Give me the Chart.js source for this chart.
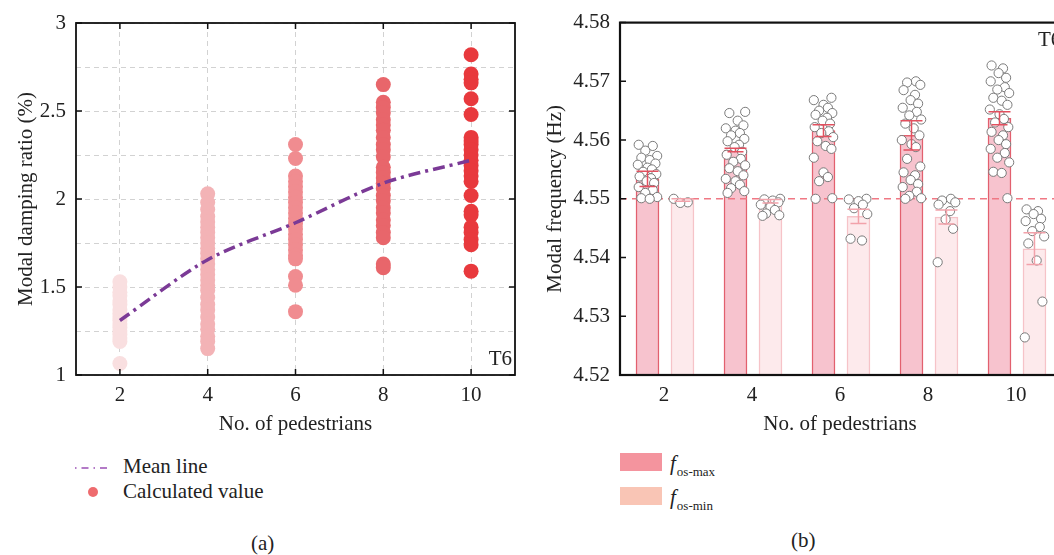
<!DOCTYPE html>
<html>
<head>
<meta charset="utf-8">
<script src="https://cdn.jsdelivr.net/npm/chart.js@4.4.1/dist/chart.umd.min.js"></script>
<style>
  html, body { margin: 0; padding: 0; background: #fff; overflow: hidden; }
  body { width: 1054px; height: 555px; position: relative; font-family: 'Liberation Serif', serif; color: #222; }
  canvas { position: absolute; top: 0; }
  #damping { left: 0; }
  #freq { left: 530px; }
  .txt { position: absolute; font-size: 21px; line-height: 1; white-space: nowrap; }
  .box { position: absolute; width: 42px; height: 18px; }
  .f { font-style: italic; }
  .sub { font-size: 13px; position: relative; top: 6px; left: 1px; }
</style>
</head>
<body>
<canvas id="damping" width="540" height="440"></canvas>
<canvas id="freq" width="540" height="440"></canvas>

<!-- legend (a) -->
<svg style="position:absolute;left:74px;top:462px" width="40" height="12">
  <line x1="1" y1="6" x2="37" y2="6" stroke="#9b4fb5" stroke-width="1.5" stroke-dasharray="1.5,5,7,5"/>
</svg>
<div class="txt" style="left:123px;top:456px">Mean line</div>
<svg style="position:absolute;left:87px;top:486px" width="12" height="12">
  <circle cx="6" cy="6" r="5" fill="#ee6b6e"/>
</svg>
<div class="txt" style="left:123px;top:481px">Calculated value</div>
<div class="txt" style="left:251px;top:533px">(a)</div>

<!-- legend (b) -->
<div class="box" style="left:620px;top:453px;background:#f4949e"></div>
<div class="txt" style="left:670px;top:453px"><span class="f">f</span><span class="sub">os-max</span></div>
<div class="box" style="left:620px;top:487px;background:#f9c5b5"></div>
<div class="txt" style="left:670px;top:487px"><span class="f">f</span><span class="sub">os-min</span></div>
<div class="txt" style="left:791px;top:530px">(b)</div>

<script>
// number of pedestrians on the footbridge
const pedestrians = [2, 4, 6, 8, 10];

// (a) modal damping ratio, %
const dampingTicks = [1, 1.5, 2, 2.5, 3];
const damping2 = [1.53, 1.50, 1.47, 1.45, 1.42, 1.40, 1.37, 1.35, 1.33, 1.31, 1.29, 1.27, 1.25, 1.23, 1.21, 1.19, 1.065];
const damping4 = [2.03, 1.98, 1.94, 1.90, 1.87, 1.84, 1.81, 1.78, 1.75, 1.72, 1.69, 1.66, 1.63, 1.60, 1.57, 1.54,
                  1.51, 1.48, 1.44, 1.40, 1.37, 1.33, 1.29, 1.26, 1.22, 1.19, 1.15];
const damping6 = [2.31, 2.23, 2.13, 2.10, 2.07, 2.04, 2.01, 1.98, 1.95, 1.92, 1.89, 1.86, 1.83, 1.80, 1.77, 1.74,
                  1.71, 1.68, 1.66, 1.56, 1.51, 1.36];
const damping8 = [2.65, 2.55, 2.52, 2.49, 2.45, 2.42, 2.39, 2.35, 2.31, 2.28, 2.24, 2.18, 2.15, 2.12, 2.09, 2.06,
                  2.02, 1.99, 1.95, 1.92, 1.88, 1.85, 1.81, 1.78, 1.63, 1.61];
const damping10 = [2.82, 2.71, 2.68, 2.66, 2.57, 2.48, 2.35, 2.33, 2.31, 2.28, 2.25, 2.22, 2.19, 2.16, 2.13, 2.10,
                   2.02, 1.93, 1.91, 1.84, 1.81, 1.77, 1.74, 1.59];
const dampingMean = [1.31, 1.655, 1.865, 2.09, 2.22];

// (b) modal frequency, Hz
const freqTicks = [4.52, 4.53, 4.54, 4.55, 4.56, 4.57, 4.58];
const freqRef = 4.55;
const fMaxMean = [4.5534, 4.5583, 4.5616, 4.5608, 4.5637];
const fMaxErr  = [0.0013, 0.0003, 0.0010, 0.0025, 0.0011];
const fMinMean = [4.5498, 4.5496, 4.5470, 4.5469, 4.5415];
const fMinErr  = [0.0002, 0.0003, 0.0012, 0.0012, 0.0027];

const fMax2 = [4.5592, 4.5590, 4.5582, 4.5573, 4.5570, 4.5566, 4.5560, 4.5558, 4.5553, 4.5550, 4.5546,
               4.5542, 4.5538, 4.5535, 4.5530, 4.5527, 4.5520, 4.5515, 4.5510, 4.5503, 4.5501, 4.5500];
const fMax4 = [4.5648, 4.5646, 4.5633, 4.5625, 4.5620, 4.5616, 4.5612, 4.5608, 4.5602, 4.5598, 4.5592,
               4.5588, 4.5580, 4.5575, 4.5568, 4.5563, 4.5557, 4.5552, 4.5547, 4.5540, 4.5534, 4.5530,
               4.5524, 4.5518, 4.5513, 4.5510];
const fMax6 = [4.5672, 4.5668, 4.5660, 4.5655, 4.5650, 4.5646, 4.5643, 4.5638, 4.5633, 4.5628, 4.5622,
               4.5615, 4.5612, 4.5605, 4.5598, 4.5590, 4.5585, 4.5570, 4.5545, 4.5537, 4.5530, 4.5501, 4.5500];
const fMax8 = [4.5700, 4.5698, 4.5694, 4.5685, 4.5677, 4.5668, 4.5662, 4.5655, 4.5648, 4.5642, 4.5635,
               4.5628, 4.5620, 4.5608, 4.5600, 4.5593, 4.5588, 4.5568, 4.5555, 4.5545, 4.5540, 4.5532,
               4.5525, 4.5520, 4.5512, 4.5505, 4.5501, 4.5500];
const fMax10 = [4.5727, 4.5722, 4.5714, 4.5706, 4.5700, 4.5690, 4.5686, 4.5680, 4.5672, 4.5667, 4.5660,
                4.5652, 4.5644, 4.5636, 4.5630, 4.5622, 4.5614, 4.5608, 4.5600, 4.5593, 4.5585, 4.5578,
                4.5570, 4.5562, 4.5546, 4.5544, 4.5501];
const fMin2 = [4.5500, 4.5494, 4.5493];
const fMin4 = [4.5500, 4.5499, 4.5497, 4.5494, 4.5490, 4.5486, 4.5481, 4.5475, 4.5472, 4.5471];
const fMin6 = [4.5500, 4.5499, 4.5496, 4.5490, 4.5484, 4.5474, 4.5432, 4.5429];
const fMin8 = [4.5500, 4.5497, 4.5494, 4.5490, 4.5479, 4.5465, 4.5449, 4.5392];
const fMin10 = [4.5482, 4.5479, 4.5474, 4.5466, 4.5462, 4.5452, 4.5445, 4.5436, 4.5424, 4.5395, 4.5325, 4.5264];

const FONT = 'Liberation Serif';
const INK = '#222';

// spread of the open circles around each bar centre (x units)
const jitter = [-0.2, 0.12, -0.05, 0.22, -0.14, 0.05, 0.18, -0.22, 0, 0.1, -0.1, 0.2, -0.18, 0.08, -0.02, 0.15];
const maxShift = -0.375, minShift = 0.42;

// box, inward tick marks and the corner tag
const frame = {
  id: 'frame',
  afterDraw(chart, args, o) {
    const { ctx, chartArea: a, scales: { x, y } } = chart;
    const len = 6;
    ctx.save();
    ctx.strokeStyle = '#111';
    ctx.lineWidth = o.width;
    ctx.strokeRect(a.left, a.top, a.width, a.height);
    ctx.lineWidth = 1.5;
    ctx.beginPath();
    (o.yTicks || []).forEach(v => {
      const py = y.getPixelForValue(v);
      ctx.moveTo(a.left, py); ctx.lineTo(a.left + len, py);
      if (o.mirror) { ctx.moveTo(a.right, py); ctx.lineTo(a.right - len, py); }
    });
    (o.xTicks || []).forEach(v => {
      const px = x.getPixelForValue(v);
      ctx.moveTo(px, a.bottom); ctx.lineTo(px, a.bottom - len);
      ctx.moveTo(px, a.top); ctx.lineTo(px, a.top + len);
    });
    ctx.stroke();
    ctx.fillStyle = INK;
    ctx.font = `21px "${FONT}"`;
    ctx.textAlign = o.tag.align;
    ctx.fillText('T6', a[o.tag.side] + o.tag.dx, a[o.tag.edge] + o.tag.dy);
    ctx.restore();
  }
};

// mean ± error whiskers on the frequency bars
const errorBars = {
  id: 'errorBars',
  afterDatasetsDraw(chart) {
    const { ctx, scales: { x, y } } = chart;
    const draw = (shift, means, errs, color) => {
      ctx.strokeStyle = color;
      ctx.lineWidth = 1.5;
      ctx.beginPath();
      pedestrians.forEach((p, i) => {
        const px = x.getPixelForValue(p + shift);
        const hi = y.getPixelForValue(means[i] + errs[i]);
        const lo = y.getPixelForValue(means[i] - errs[i]);
        ctx.moveTo(px, hi); ctx.lineTo(px, lo);
        ctx.moveTo(px - 11, hi); ctx.lineTo(px + 11, hi);
        ctx.moveTo(px - 8, lo); ctx.lineTo(px + 8, lo);
      });
      ctx.stroke();
    };
    ctx.save();
    draw(maxShift, fMaxMean, fMaxErr, '#e2505f');
    draw(minShift, fMinMean, fMinErr, '#f2a2aa');
    ctx.restore();
  }
};

const tickFont = { family: FONT, size: 21 };
const setTicks = list => scale => { scale.ticks = list.map(v => ({ value: v })); };

// ---------- (a) damping ratio ----------
const dampingCols = [damping2, damping4, damping6, damping8, damping10];
const dotColors = ['#f9dfe0', '#f3b3b6', '#f08c90', '#e8666b', '#e8393d'];

new Chart(document.getElementById('damping'), {
  type: 'scatter',
  data: {
    datasets: [
      {
        type: 'line',
        data: pedestrians.map((p, i) => ({ x: p, y: dampingMean[i] })),
        borderColor: '#7b3a96',
        borderWidth: 3.5,
        borderDash: [12, 5, 3, 5],
        tension: 0.3,
        pointRadius: 0,
        fill: false,
        order: 0
      },
      ...dampingCols.map((col, i) => ({
        data: col.map(v => ({ x: pedestrians[i], y: v })),
        backgroundColor: dotColors[i],
        borderWidth: 0,
        pointRadius: 7.5,
        order: 1
      }))
    ]
  },
  options: {
    responsive: false,
    animation: false,
    events: [],
    layout: { padding: { top: 23, right: 25, left: 0, bottom: 0 } },
    scales: {
      x: {
        type: 'linear', min: 1, max: 11,
        afterBuildTicks: setTicks(pedestrians),
        afterFit: s => { s.height = 65; },
        grid: { color: '#d2d2d2', drawTicks: false },
        border: { display: false, dash: [5, 4] },
        ticks: { font: tickFont, color: INK, padding: 8 },
        title: { display: true, text: 'No. of pedestrians', font: tickFont, color: INK, padding: { top: 0, bottom: 3 } }
      },
      y: {
        min: 1, max: 3,
        ticks: {
          stepSize: 0.25, font: tickFont, color: INK, padding: 10,
          callback: v => (Math.abs(v * 2 - Math.round(v * 2)) < 1e-6 ? String(v) : '')
        },
        afterFit: s => { s.width = 76; },
        grid: { color: '#d2d2d2', drawTicks: false },
        border: { display: false, dash: [5, 4] },
        title: { display: true, text: 'Modal damping ratio (%)', font: tickFont, color: INK, padding: { top: 14, bottom: 0 } }
      }
    },
    plugins: {
      legend: { display: false },
      tooltip: { enabled: false },
      frame: {
        width: 1.8, mirror: true, yTicks: dampingTicks, xTicks: pedestrians,
        tag: { align: 'right', side: 'right', edge: 'bottom', dx: -3, dy: -10 }
      }
    }
  },
  plugins: [frame]
});

// ---------- (b) modal frequency ----------
const maxCols = [fMax2, fMax4, fMax6, fMax8, fMax10];
const minCols = [fMin2, fMin4, fMin6, fMin8, fMin10];
const circles = (cols, shift) => cols.map((col, i) => ({
  type: 'scatter',
  data: col.map((v, k) => ({ x: pedestrians[i] + shift + jitter[(k + i * 3) % jitter.length], y: v })),
  backgroundColor: '#ffffff',
  borderColor: '#7a7a7a',
  borderWidth: 1,
  pointRadius: 4.6,
  order: 0
}));

new Chart(document.getElementById('freq'), {
  type: 'bar',
  data: {
    datasets: [
      {
        type: 'bar',
        data: pedestrians.map((p, i) => ({ x: p + maxShift, y: fMaxMean[i] })),
        backgroundColor: '#f7c3ce',
        borderColor: '#e2606e',
        borderWidth: { left: 1.5, right: 1.5, top: 1.5, bottom: 0 },
        barThickness: 23,
        grouped: false,
        order: 3
      },
      {
        type: 'bar',
        data: pedestrians.map((p, i) => ({ x: p + minShift, y: fMinMean[i] })),
        backgroundColor: '#fdeaec',
        borderColor: '#f6c3c8',
        borderWidth: { left: 1.5, right: 1.5, top: 1.5, bottom: 0 },
        barThickness: 23,
        grouped: false,
        order: 3
      },
      {
        type: 'line',
        data: [{ x: 1, y: freqRef }, { x: 11, y: freqRef }],
        borderColor: '#f07884',
        borderWidth: 1.5,
        borderDash: [7, 5],
        pointRadius: 0,
        order: 2
      },
      ...circles(maxCols, maxShift),
      ...circles(minCols, minShift)
    ]
  },
  options: {
    responsive: false,
    animation: false,
    events: [],
    layout: { padding: { top: 16, right: 10, left: 0, bottom: 0 } },
    scales: {
      x: {
        type: 'linear', min: 1, max: 11, offset: false,
        afterBuildTicks: setTicks(pedestrians),
        afterFit: s => { s.height = 65; },
        grid: { display: false, drawTicks: false },
        border: { display: false },
        ticks: { font: tickFont, color: INK, padding: 8 },
        title: { display: true, text: 'No. of pedestrians', font: tickFont, color: INK, padding: { top: 0, bottom: 3 } }
      },
      y: {
        min: 4.52, max: 4.58,
        afterBuildTicks: setTicks(freqTicks),
        afterFit: s => { s.width = 90; },
        grid: { display: false, drawTicks: false },
        border: { display: false },
        ticks: { font: tickFont, color: INK, padding: 10, callback: v => v.toFixed(2) },
        title: { display: true, text: 'Modal frequency (Hz)', font: tickFont, color: INK, padding: { top: 13, bottom: 0 } }
      }
    },
    plugins: {
      legend: { display: false },
      tooltip: { enabled: false },
      frame: {
        width: 2.2, mirror: false, yTicks: freqTicks,
        tag: { align: 'left', side: 'right', edge: 'top', dx: -22, dy: 23 }
      }
    }
  },
  plugins: [errorBars, frame]
});
</script>
</body>
</html>
